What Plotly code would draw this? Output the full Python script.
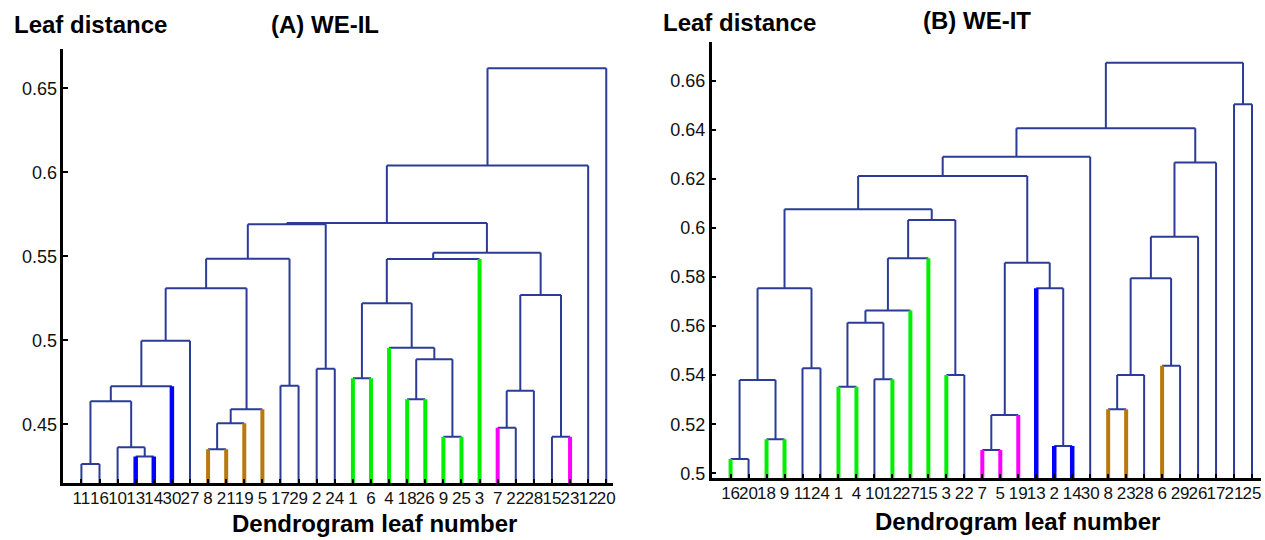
import plotly.graph_objects as go

# ---------------- data ----------------
# (A) WE-IL : leaf labels in dendrogram order
a_labels = [11, 16, 10, 13, 14, 30, 27, 8, 21, 19, 5, 17, 29, 2, 24,
            1, 6, 4, 18, 26, 9, 25, 3, 7, 22, 28, 15, 23, 12, 20]
# merges: child a, child b (leaf index 0..29 or node id 30+k), merge height
a_child1 = [0, 3, 2, 30, 33, 34, 7, 36, 37, 35, 11, 39, 13, 41, 15,
            18, 20, 45, 17, 44, 49, 23, 51, 26, 52, 50, 43, 56, 57]
a_child2 = [1, 4, 31, 32, 5, 6, 8, 9, 10, 38, 12, 40, 14, 42, 16,
            19, 21, 46, 47, 48, 22, 24, 25, 27, 53, 54, 55, 28, 29]
a_height = [0.4264, 0.4309, 0.4364, 0.4637, 0.4726, 0.4998, 0.4351, 0.4506,
            0.4589, 0.5310, 0.4730, 0.5486, 0.4831, 0.5691, 0.4774, 0.4649,
            0.4426, 0.4887, 0.4956, 0.5220, 0.5484, 0.4480, 0.4700, 0.4426,
            0.5270, 0.5521, 0.5698, 0.6040, 0.6619]
# highlighted group of each leaf ("" = none)
a_group = ["", "", "", "blue", "blue", "blue", "", "brown", "brown", "brown",
           "brown", "", "", "", "", "green", "green", "green", "green", "green",
           "green", "green", "green", "magenta", "", "", "", "magenta", "", ""]
a_yticks = [0.45, 0.5, 0.55, 0.6, 0.65]
a_yticktext = ["0.45", "0.5", "0.55", "0.6", "0.65"]

# (B) WE-IT
b_labels = [16, 20, 18, 9, 11, 24, 1, 4, 10, 12, 27, 15, 3, 22, 7,
            5, 19, 13, 2, 14, 30, 8, 23, 28, 6, 29, 26, 17, 21, 25]
b_child1 = [0, 2, 30, 4, 32, 6, 8, 35, 37, 38, 12, 39, 34, 14, 43,
            18, 17, 44, 42, 48, 21, 50, 24, 51, 53, 54, 49, 28, 56]
b_child2 = [1, 3, 31, 5, 33, 7, 9, 36, 10, 11, 13, 40, 41, 15, 16,
            19, 45, 46, 47, 20, 22, 23, 25, 52, 26, 27, 55, 29, 57]
b_height = [0.5058, 0.5139, 0.5380, 0.5428, 0.5754, 0.5353, 0.5383, 0.5614,
            0.5663, 0.5876, 0.5401, 0.6032, 0.6076, 0.5095, 0.5238, 0.5111,
            0.5754, 0.5858, 0.6212, 0.6290, 0.5261, 0.5401, 0.5438, 0.5795,
            0.5964, 0.6267, 0.6406, 0.6504, 0.6673]
b_group = ["green", "", "green", "green", "", "", "green", "green", "", "green",
           "green", "green", "green", "", "magenta", "magenta", "magenta", "blue",
           "blue", "blue", "", "brown", "brown", "", "brown", "", "", "", "", ""]
b_yticks = [0.5, 0.52, 0.54, 0.56, 0.58, 0.6, 0.62, 0.64, 0.66]
b_yticktext = ["0.5", "0.52", "0.54", "0.56", "0.58", "0.6", "0.62", "0.64", "0.66"]

# ---------------- styles ----------------
NAVY = "#2B3C96"
GROUP_STYLE = {
    "blue": ("#0000FF", 4.5),
    "brown": ("#B8790F", 4),
    "green": ("#00F000", 4),
    "magenta": ("#FF00FF", 4),
}
FONT = "Liberation Sans, Arial, sans-serif"

fig = go.Figure()


def add_dendrogram(labels, c1, c2, heights, groups, xa, ya):
    n = len(labels)
    xpos = {i: i + 1 for i in range(n)}
    ypos = {i: 0.0 for i in range(n)}
    nx, ny = [], []
    col = {}
    for k, (a, b, h) in enumerate(zip(c1, c2, heights)):
        node = n + k
        x_a, x_b = xpos[a], xpos[b]
        nx += [x_a, x_b, None]
        ny += [h, h, None]
        for c, xc in ((a, x_a), (b, x_b)):
            g = groups[c] if c < n else ""
            if g:
                gx, gy = col.setdefault(g, ([], []))
                gx += [xc, xc, None]
                gy += [ypos[c], h, None]
            else:
                nx += [xc, xc, None]
                ny += [ypos[c], h, None]
        xpos[node] = (x_a + x_b) / 2
        ypos[node] = h
    fig.add_trace(go.Scatter(x=nx, y=ny, mode="lines",
                             line=dict(color=NAVY, width=2),
                             xaxis=xa, yaxis=ya, hoverinfo="skip",
                             showlegend=False))
    for g, (gx, gy) in col.items():
        c, w = GROUP_STYLE[g]
        fig.add_trace(go.Scatter(x=gx, y=gy, mode="lines",
                                 line=dict(color=c, width=w),
                                 xaxis=xa, yaxis=ya, hoverinfo="skip",
                                 showlegend=False))


add_dendrogram(a_labels, a_child1, a_child2, a_height, a_group, "x", "y")
add_dendrogram(b_labels, b_child1, b_child2, b_height, b_group, "x2", "y2")

axis_common = dict(showline=True, linecolor="black", linewidth=2.5,
                   ticks="inside", ticklen=5, tickwidth=1.5, tickcolor="black",
                   showgrid=False, zeroline=False, automargin=False)
yfont = dict(family=FONT, size=18, color="#111")
xfont = dict(family=FONT, size=17, color="#111")

fig.update_layout(
    width=1265, height=540,
    margin=dict(l=0, r=0, t=0, b=0),
    paper_bgcolor="white", plot_bgcolor="white",
    xaxis=dict(domain=[0.05004, 0.48498], range=[0, 30.4], anchor="y",
               tickvals=list(range(1, 31)), ticktext=[str(v) for v in a_labels],
               tickangle=0, tickfont=xfont, ticklabelstandoff=-2, **axis_common),
    yaxis=dict(domain=[0.1050, 0.9093], range=[0.41488, 0.67339], anchor="x",
               tickvals=a_yticks, ticktext=a_yticktext, tickfont=yfont,
               **axis_common),
    xaxis2=dict(domain=[0.56261, 0.99684], range=[-0.05, 30.5], anchor="y2",
                tickvals=list(range(1, 31)), ticktext=[str(v) for v in b_labels],
                tickangle=0, tickfont=xfont, ticklabelstandoff=-2, **axis_common),
    yaxis2=dict(domain=[0.11426, 0.92278], range=[0.49796, 0.67589], anchor="x2",
                tickvals=b_yticks, ticktext=b_yticktext, tickfont=yfont,
                **axis_common),
)

title_font = dict(family=FONT, size=24, color="black")
texts = [
    ("<b>Leaf distance</b>", 90, 25),
    ("<b>(A) WE-IL</b>", 325, 25),
    ("<b>Leaf distance</b>", 739, 22),
    ("<b>(B) WE-IT</b>", 977, 21),
    ("<b>Dendrogram leaf number</b>", 374, 523),
    ("<b>Dendrogram leaf number</b>", 1017, 521),
]
for t, px, py in texts:
    fig.add_annotation(text=t, xref="paper", yref="paper",
                       x=px / 1265, y=1 - py / 540, xanchor="center",
                       yanchor="middle", showarrow=False, font=title_font)

fig.write_html("out.html", config={"displayModeBar": False},
               post_script="document.body.style.margin='0';"
                           "document.body.style.overflow='hidden';")
